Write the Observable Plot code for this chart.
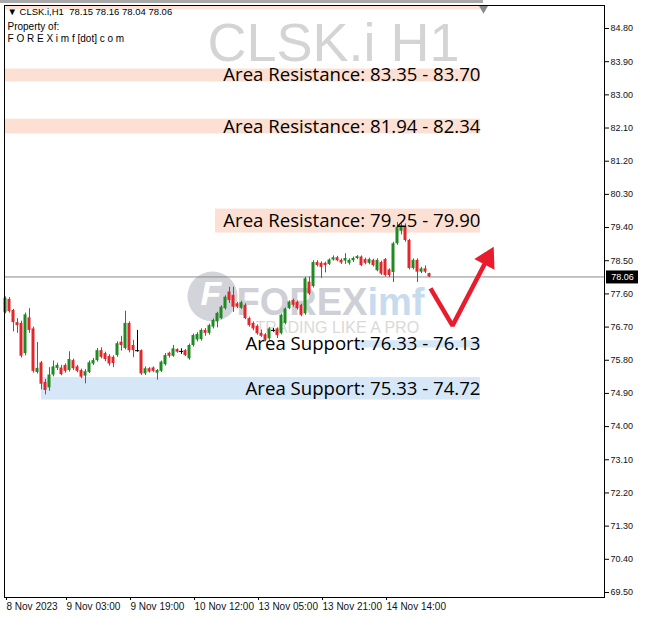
<!DOCTYPE html>
<html><head><meta charset="utf-8">
<script src="https://cdn.jsdelivr.net/npm/d3@7"></script>
<script src="https://cdn.jsdelivr.net/npm/@observablehq/plot@0.6"></script>
<style>body{margin:0;background:#fff;} svg{display:block}</style>
</head><body><div id="chart"></div>
<script>
// ---- data ----
const opens = [77.10,77.45,77.15,76.82,76.80,75.98,76.95,76.65,75.47,75.73,75.20,75.05,75.40,75.58,75.59,75.66,75.52,75.79,75.62,75.52,75.37,75.47,75.70,75.79,76.06,75.98,75.90,75.88,75.93,76.29,76.12,76.80,76.20,76.06,76.06,75.43,75.57,75.59,75.45,75.50,75.68,75.99,75.91,76.09,76.04,76.06,75.84,76.20,76.35,76.36,76.61,76.53,76.70,76.84,76.93,77.20,77.65,77.56,77.33,77.21,77.29,76.93,76.80,76.72,76.53,76.49,76.38,76.61,76.65,76.52,76.80,77.20,77.42,77.37,77.29,77.06,77.92,77.80,78.45,78.43,78.43,78.40,78.52,78.58,78.51,78.49,78.43,78.50,78.56,78.60,78.53,78.43,78.51,78.23,78.45,78.53,78.25,78.18,78.96,79.30,79.41,79.05,78.29,78.51,78.19,78.28,78.15];
const highs = [77.52,77.50,77.18,76.93,76.86,77.08,77.20,76.70,76.28,75.77,75.28,75.60,75.78,75.72,75.66,75.70,76.03,75.83,75.66,75.56,75.55,75.78,75.85,76.12,76.14,76.02,75.95,75.92,76.30,76.45,77.13,76.84,76.34,76.61,76.08,75.62,75.60,75.62,75.55,75.78,75.98,76.02,76.20,76.11,76.11,76.09,76.24,76.51,76.55,76.65,76.66,76.78,76.92,77.10,77.28,77.55,77.78,77.78,77.37,77.40,77.33,76.97,76.84,76.76,76.62,76.52,76.68,76.66,76.68,77.05,77.22,77.41,77.46,77.41,77.32,78.05,78.06,78.50,78.50,78.47,78.46,78.55,78.63,78.62,78.55,78.69,78.55,78.60,78.64,78.63,78.57,78.57,78.54,78.55,78.49,78.56,78.28,79.00,79.54,79.50,79.50,79.08,78.55,78.55,78.32,78.36,78.16];
const lows = [77.06,77.08,76.57,76.53,75.86,75.92,76.53,75.45,75.43,75.00,74.86,74.96,75.35,75.52,75.38,75.45,75.48,75.52,75.46,75.30,75.16,75.44,75.66,75.75,75.84,75.76,75.64,75.60,75.88,76.05,76.08,76.00,75.87,76.02,75.39,75.39,75.45,75.47,75.26,75.47,75.64,75.86,75.88,75.99,75.96,75.90,75.80,76.16,76.30,76.32,76.45,76.48,76.65,76.68,76.90,77.16,77.34,77.10,77.20,77.18,76.90,76.70,76.60,76.48,76.42,76.30,76.34,76.56,76.39,76.49,76.76,77.17,77.24,77.16,76.98,77.02,77.56,77.76,78.33,78.02,78.17,78.37,78.49,78.47,78.40,78.40,78.38,78.45,78.53,78.34,78.39,78.39,78.33,78.20,78.10,78.06,78.04,77.91,78.92,79.20,79.00,78.25,78.25,77.91,78.15,78.15,78.04];
const closes = [77.48,77.12,76.82,76.74,75.91,77.03,76.61,75.50,75.58,75.15,74.98,75.40,75.62,75.66,75.41,75.50,75.82,75.57,75.50,75.34,75.49,75.73,75.79,76.06,75.88,75.82,75.70,75.71,76.25,76.20,76.80,76.06,76.06,76.06,75.43,75.57,75.48,75.50,75.52,75.75,75.93,75.91,76.11,76.02,76.04,75.93,76.20,76.47,76.50,76.61,76.53,76.74,76.88,77.07,77.24,77.51,77.42,77.24,77.24,77.36,76.93,76.74,76.65,76.52,76.45,76.34,76.65,76.61,76.47,77.02,77.19,77.38,77.29,77.20,77.02,78.01,77.60,78.45,78.37,78.32,78.37,78.52,78.58,78.50,78.44,78.56,78.51,78.56,78.61,78.37,78.43,78.53,78.37,78.51,78.14,78.10,78.10,78.96,79.41,79.40,79.05,78.29,78.51,78.19,78.28,78.19,78.06];

const timeTickIndex  = [0, 15, 31, 47, 63, 79, 95];
const timeTickLabels = ["8 Nov 2023","9 Nov 03:00","9 Nov 19:00","10 Nov 12:00","13 Nov 05:00","13 Nov 21:00","14 Nov 14:00"];
const priceTicks = [84.80,83.90,83.00,82.10,81.20,80.30,79.40,78.50,77.60,76.70,75.80,74.90,74.00,73.10,72.20,71.30,70.40,69.50];

const zoneLabels = ["Area Resistance: 83.35 - 83.70","Area Resistance: 81.94 - 82.34","Area Resistance: 79.25 - 79.90","Area Support: 76.33 - 76.13","Area Support: 75.33 - 74.72"];
const zoneLow    = [83.35, 81.94, 79.25, 76.13, 74.72];
const zoneHigh   = [83.70, 82.34, 79.90, 76.33, 75.33];
const zoneStart  = [-0.25, -0.25, 52.5, 87.5, 9];
const zoneEnd    = [118.75, 118.75, 118.75, 118.75, 118.75];
const zoneKind   = ["res","res","res","sup","sup"];

const lastPrice = 78.06;
const headerText = "\u25BC CLSK.i,H1\u00A0\u00A078.15 78.16 78.04 78.06";
const arrowIdx   = [106.25, 111.75, 120.5];
const arrowPrice = [77.75, 76.74, 78.56];

// ---- build tables ----
const GREEN = "#1f8a22", RED = "#e3262b";
const candles = opens.map((o, i) => ({i, o, h: highs[i], l: lows[i], c: closes[i],
  dir: closes[i] > o ? "up" : closes[i] < o ? "down" : "flat"}));
const col = d => d.dir === "up" ? GREEN : d.dir === "down" ? RED : "#000";
const zones = zoneLabels.map((label, k) => ({label, lo: zoneLow[k], hi: zoneHigh[k], x1: zoneStart[k], x2: zoneEnd[k], kind: zoneKind[k], mid: (zoneLow[k] + zoneHigh[k]) / 2}));
const arrow = arrowIdx.map((x, k) => ({x, y: arrowPrice[k]}));
const tip = arrow[arrow.length - 1];

const chart = Plot.plot({
  width: 645, height: 619,
  marginTop: 5, marginRight: 41, marginBottom: 22, marginLeft: 4,
  x: {domain: [-0.25, 149.75], axis: null},
  y: {domain: [69.364, 85.424], axis: null},
  style: {fontFamily: "'Liberation Sans', Arial, sans-serif", background: "#fff", color: "#111"},
  marks: [
    // top strip + shift marker bar
    Plot.rect([0], {x1: -0.25, x2: 118.75, y1: 85.30, y2: 85.424, fill: "#fbe1d6"}),
    Plot.ruleY([85.53], {x1: -1.25, x2: 119.5, stroke: "#a8a8a8", strokeWidth: 3}),
    // zones
    Plot.rect(zones, {x1: "x1", x2: "x2", y1: "lo", y2: "hi", fill: d => d.kind === "res" ? "#fde0d4" : "#d6e7f8"}),
    // watermarks
    Plot.text(["CLSK.i H1"], {frameAnchor: "top-left", dx: 203, dy: 17, fontSize: 54, fill: "#d4d4d4", lineAnchor: "top"}),
    Plot.dot([0], {frameAnchor: "top-left", dx: 208, dy: 291, r: 25, fill: "#d3d3da", stroke: "none"}),
    Plot.text(["F"], {frameAnchor: "top-left", dx: 196, dy: 275, fontSize: 34, fontWeight: "bold", fontStyle: "italic", fill: "#fff", lineAnchor: "top"}),
    Plot.text(["FOREX"], {frameAnchor: "top-left", dx: 232, dy: 283, fontSize: 38, fontWeight: "bold", fill: "#cfcfd6", lineAnchor: "top"}),
    Plot.text(["imf"], {frameAnchor: "top-left", dx: 363, dy: 283, fontSize: 38, fontWeight: "bold", fill: "#c6dbee", lineAnchor: "top"}),
    Plot.text(["TRADING LIKE A PRO"], {frameAnchor: "top-left", dx: 251, dy: 316, fontSize: 16, fill: "#d9d9d9", lineAnchor: "top"}),
    // header
    Plot.text([headerText], {frameAnchor: "top-left", dx: 3, dy: 3, fontSize: 9.5, fill: "#000", lineAnchor: "top"}),
    Plot.text(["Property of:"], {frameAnchor: "top-left", dx: 3, dy: 17, fontSize: 10, fill: "#000", lineAnchor: "top"}),
    Plot.text(["F O R E X i m f [dot] c o m"], {frameAnchor: "top-left", dx: 3, dy: 29, fontSize: 10, fill: "#000", lineAnchor: "top"}),
    // current price line
    Plot.ruleY([lastPrice], {x1: -0.25, x2: 149.75, stroke: "#8a8a8a"}),
    // candles
    Plot.ruleX(candles, {x: "i", y1: "l", y2: "h", stroke: col}),
    Plot.rect(candles.filter(d => d.dir !== "flat"), {x1: d => d.i - 0.375, x2: d => d.i + 0.375, y1: "o", y2: "c", fill: col}),
    Plot.ruleY(candles.filter(d => d.dir === "flat"), {y: "o", x1: d => d.i - 0.5, x2: d => d.i + 0.5, stroke: "#000"}),
    // zone labels
    Plot.text(zones, {x: "x2", y: "mid", text: "label", textAnchor: "end", lineAnchor: "middle", fontSize: 18.6, fontFamily: "'Open Sans', sans-serif", fill: "#000"}),
    // arrow
    Plot.line(arrow, {x: "x", y: "y", stroke: "#e81c2c", strokeWidth: 4.5, strokeLinejoin: "miter", strokeLinecap: "butt"}),
    Plot.dot([tip], {x: "x", y: "y", symbol: "triangle", r: 8.5, rotate: 28, fill: "#e81c2c", stroke: "none"}),
    // shift marker
    Plot.dot([0], {x: 119.5, y: 85.35, symbol: "triangle", rotate: 180, r: 3.5, fill: "#8a8a8a", stroke: "none"}),
    // frame + axes
    Plot.frame({stroke: "#000"}),
    Plot.axisY({anchor: "right", ticks: priceTicks, tickFormat: d => d.toFixed(2), tickSize: 4, tickPadding: 2, fontSize: 9, label: null, stroke: "#000"}),
    Plot.axisX({anchor: "bottom", ticks: timeTickIndex, tickFormat: d => timeTickLabels[timeTickIndex.indexOf(d)], tickSize: 3, tickPadding: 2, textAnchor: "start", dx: 1, fontSize: 10, label: null, stroke: "#000"}),
    // last price box
    Plot.ruleY([lastPrice], {x1: 150.25, x2: 158.25, stroke: "#000", strokeWidth: 13}),
    Plot.text([lastPrice], {x: 154.25, y: d => d, text: d => d.toFixed(2), fill: "#fff", fontSize: 9, textAnchor: "middle", lineAnchor: "middle"})
  ]
});
document.getElementById("chart").append(chart);
</script>
</body></html>
